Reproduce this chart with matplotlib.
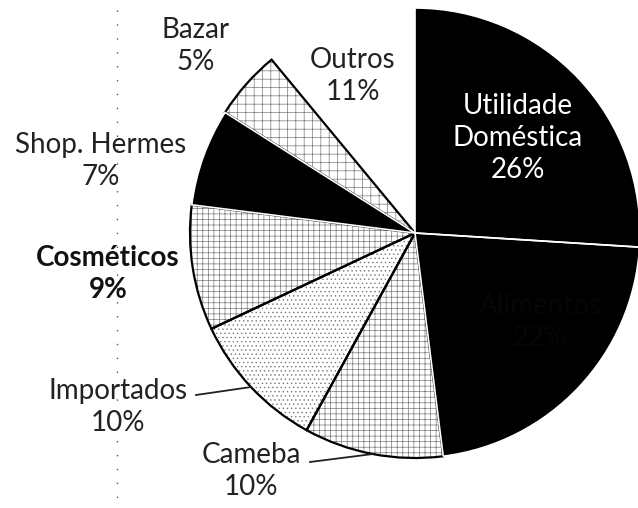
import numpy as np
import matplotlib.pyplot as plt
from matplotlib.patches import Wedge

# participação de cada setor nas vendas
setores = ["Utilidade\nDoméstica", "Alimentos", "Cameba", "Importados",
           "Cosméticos", "Shop. Hermes", "Bazar", "Outros"]
percentuais = [26, 22, 10, 10, 9, 7, 5, 11]

cores = ["black", "black", "white", "white", "white", "black", "white", "white"]
hachuras = [None, None, "+++", "....", "+++", None, "++", None]
bordas = ["white", "white", "black", "black", "black", "white", "black", None]

plt.rcParams["font.family"] = ["Lato", "DejaVu Sans"]
plt.rcParams["hatch.linewidth"] = 0.5

W, H = 638, 508
fig = plt.figure(figsize=(W / 100, H / 100), dpi=100)
ax = fig.add_axes([0, 0, 1, 1])

centro = (415, H - 233)
raio = 225
fatias, _ = ax.pie(percentuais, colors=cores, startangle=90, counterclock=False,
                   center=centro, radius=raio, wedgeprops=dict(linewidth=0))

for w, h in zip(fatias, hachuras):
    if h:
        w.set_hatch(h)
        w.set_edgecolor("#7a7a7a")

# contornos: pretos primeiro, brancos por cima
for cor in ["black", "white"]:
    for w, b in zip(fatias, bordas):
        if b == cor:
            ax.add_patch(Wedge(w.center, w.r, w.theta1, w.theta2, facecolor="none",
                               edgecolor=b, linewidth=1.6 if b == "black" else 1.2))

ax.set_xlim(0, W)
ax.set_ylim(0, H)
ax.set_aspect("equal")
ax.axis("off")

fs = 20


def rotulo(i, x, y, **kw):
    ax.text(x, H - y, f"{setores[i]}\n{percentuais[i]}%", ha="center", va="center",
            fontsize=fs, linespacing=1.3, **kw)


rotulo(0, 518, 138, color="white")
rotulo(1, 540, 322, color="#060606")
rotulo(2, 251, 471, color="#222222")
rotulo(3, 118, 407, color="#222222")
rotulo(4, 108, 274, color="#111111", fontweight="bold")
rotulo(5, 101, 161, color="#222222")
rotulo(6, 196, 46, color="#222222")
rotulo(7, 353, 76, color="#222222")


# linhas de chamada até o meio do arco da fatia
def chamada(i, x0, y0):
    w = fatias[i]
    ang = np.deg2rad((w.theta1 + w.theta2) / 2)
    x1 = w.center[0] + w.r * np.cos(ang)
    y1 = w.center[1] + w.r * np.sin(ang)
    ax.plot([x0, x1], [H - y0, y1], color="#222222", linewidth=1.3)


chamada(3, 196, 395)
chamada(2, 310, 462)

# vinco vertical da folha digitalizada
ax.plot([117, 117], [H - 10, H - 508], color="#555555", linewidth=1,
        linestyle=(0, (1, 9)))

fig.savefig("out.png", dpi=100)
